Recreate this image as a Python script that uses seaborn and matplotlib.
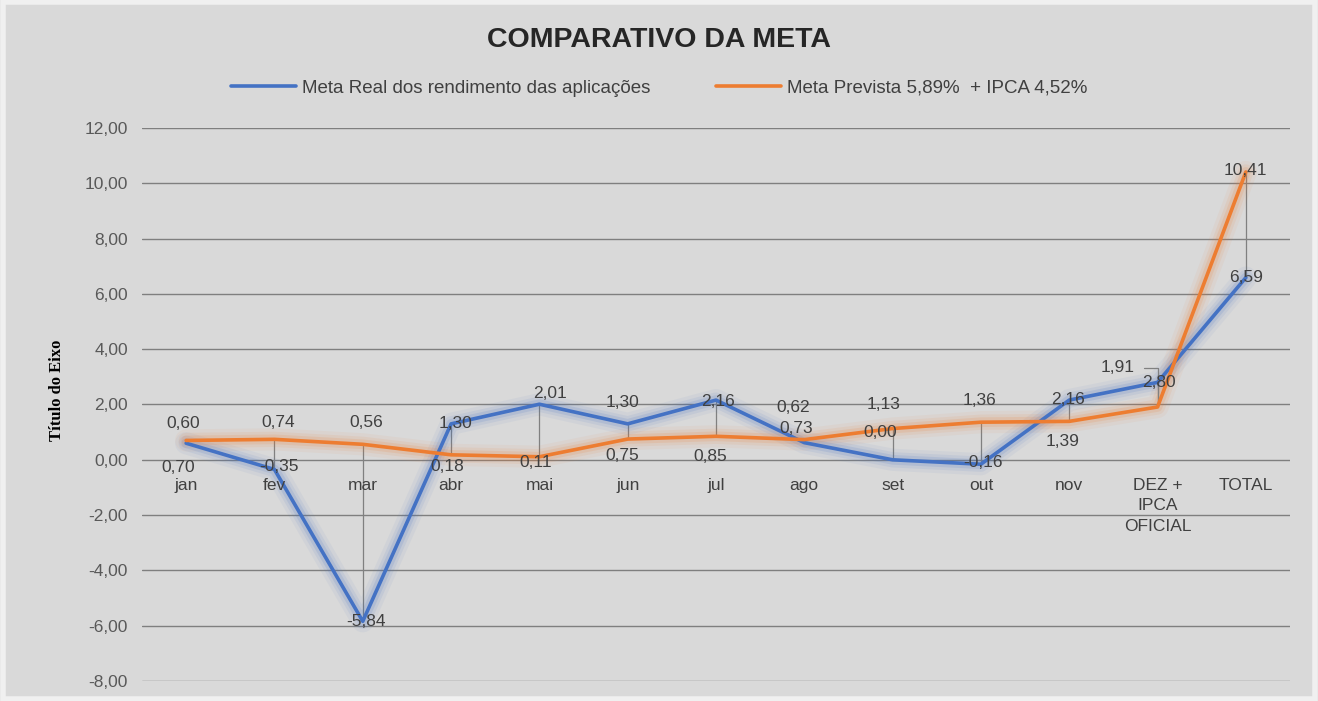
import numpy as np
import pandas as pd
import matplotlib
matplotlib.use("Agg")
import matplotlib.pyplot as plt
from matplotlib.lines import Line2D
import seaborn as sns

# ---------------- data ----------------
categories = ["jan", "fev", "mar", "abr", "mai", "jun", "jul", "ago", "set",
              "out", "nov", "DEZ +\nIPCA\nOFICIAL", "TOTAL"]
meta_real = [0.60, -0.35, -5.84, 1.30, 2.01, 1.30, 2.16, 0.62, 0.00, -0.16, 2.16, 2.80, 6.59]
meta_prevista = [0.70, 0.74, 0.56, 0.18, 0.11, 0.75, 0.85, 0.73, 1.13, 1.36, 1.39, 1.91, 10.41]
series_names = ["Meta Real dos rendimento das aplicações", "Meta Prevista 5,89%  + IPCA 4,52%"]
y_ticks = [-8, -6, -4, -2, 0, 2, 4, 6, 8, 10, 12]

# label offsets (pixels) for data labels
real_offsets = [(-3, 20), (5, 3), (3, 0), (4, 0), (11, 11), (-5, 21), (2, -1),
                (-11, 35), (-12, 27), (2, 2), (-1, 1), (1, 0), (0, 0)]
prev_offsets = [(-8, -27), (4, 17), (3, 22), (-4, -12), (-4, -6), (-5, -16), (-6, -20),
                (-8, 11), (-9, 24), (-1, 22), (-7, -20), (-40, 39), (0, 1)]

BLUE = "#4472C4"
ORANGE = "#ED7D31"
BG = "#d9d9d9"
TXT = "#404040"

sns.set_theme(style="white")
plt.rcParams["font.family"] = ["Liberation Sans", "DejaVu Sans"]

W, H = 1318, 701
fig = plt.figure(figsize=(W / 100, H / 100), dpi=100, facecolor=BG)
left, right, top, bottom = 142, 1290, 128, 681
ax = fig.add_axes([left / W, 1 - bottom / H, (right - left) / W, (bottom - top) / H])
ax.set_facecolor(BG)

x = np.arange(len(categories))
df = pd.DataFrame({
    "x": np.concatenate([x, x]),
    "valor": meta_real + meta_prevista,
    "serie": [series_names[0]] * len(x) + [series_names[1]] * len(x),
})

# gridlines
for t in y_ticks:
    ax.axhline(t, color="#7f7f7f", lw=1.0, zorder=1)

# high-low lines
ax.vlines(x, np.minimum(meta_real, meta_prevista), np.maximum(meta_real, meta_prevista),
          color="#808080", lw=0.9, zorder=2)

palette = {series_names[0]: BLUE, series_names[1]: ORANGE}
# glow layers
for lw, a in [(16, 0.06), (11, 0.09), (7, 0.14)]:
    sns.lineplot(data=df, x="x", y="valor", hue="serie", palette=palette, ax=ax,
                 lw=lw, alpha=a, legend=False, sort=False, zorder=3)
sns.lineplot(data=df, x="x", y="valor", hue="serie", palette=palette, ax=ax,
             lw=2.6, legend=False, sort=False, zorder=4)

ax.set_xlim(-0.5, len(categories) - 0.5)
ax.set_ylim(-8, 12)
ax.set_yticks(y_ticks)
ax.set_yticklabels([f"{t:.2f}".replace(".", ",") for t in y_ticks], fontsize=12.5, color="#595959")
ax.tick_params(axis="y", length=0, pad=10)
ax.set_xticks([])
ax.set_xlabel("")
ax.set_ylabel("")
for s in ax.spines.values():
    s.set_visible(False)

# category labels at the zero axis
for i, c in enumerate(categories):
    ax.annotate(c, (i, 0), xytext=(0, -18), textcoords="offset pixels",
                ha="center", va="top", fontsize=12.5, color=TXT, linespacing=1.45, zorder=6)

def fmt(v):
    return f"{v:.2f}".replace(".", ",")

for i, v in enumerate(meta_real):
    dx, dy = real_offsets[i]
    ax.annotate(fmt(v), (i, v), xytext=(dx, dy), textcoords="offset pixels",
                ha="center", va="center", fontsize=12.5, color=TXT, zorder=7)
for i, v in enumerate(meta_prevista):
    dx, dy = prev_offsets[i]
    ax.annotate(fmt(v), (i, v), xytext=(dx, dy), textcoords="offset pixels",
                ha="center", va="center", fontsize=12.5, color=TXT, zorder=7)

# leader line for the DEZ orange label
i_dez = 11
ax.annotate("", (i_dez, meta_prevista[i_dez]), xytext=(-16, 39), textcoords="offset pixels",
            arrowprops=dict(arrowstyle="-", color="#808080", lw=0.9,
                            connectionstyle="angle,angleA=0,angleB=90,rad=0"))

# title
fig.text(0.5, 1 - 40 / H, "COMPARATIVO DA META", ha="center", va="center",
         fontsize=20.5, fontweight="bold", color="#262626")

# legend
handles = [Line2D([], [], color=BLUE, lw=2.6), Line2D([], [], color=ORANGE, lw=2.6)]
fig.legend(handles, series_names, loc="center", bbox_to_anchor=(0.5, 1 - 88 / H),
           ncol=2, frameon=False, fontsize=13.5, handlelength=3.5, handletextpad=0.3,
           columnspacing=3.5, labelcolor=TXT)

# y axis title
fig.text(57 / W, 1 - 390 / H, "Título do Eixo", rotation=90, ha="center", va="center",
         fontsize=12, fontweight="bold", family=["Liberation Serif", "DejaVu Serif"], color="#000000")

# outer frame
fig.patches.append(plt.Rectangle((0.002, 0.003), 0.996, 0.994, transform=fig.transFigure,
                                 fill=False, edgecolor="#f0f0f0", lw=4))

fig.savefig("out.png", dpi=100, facecolor=BG)
